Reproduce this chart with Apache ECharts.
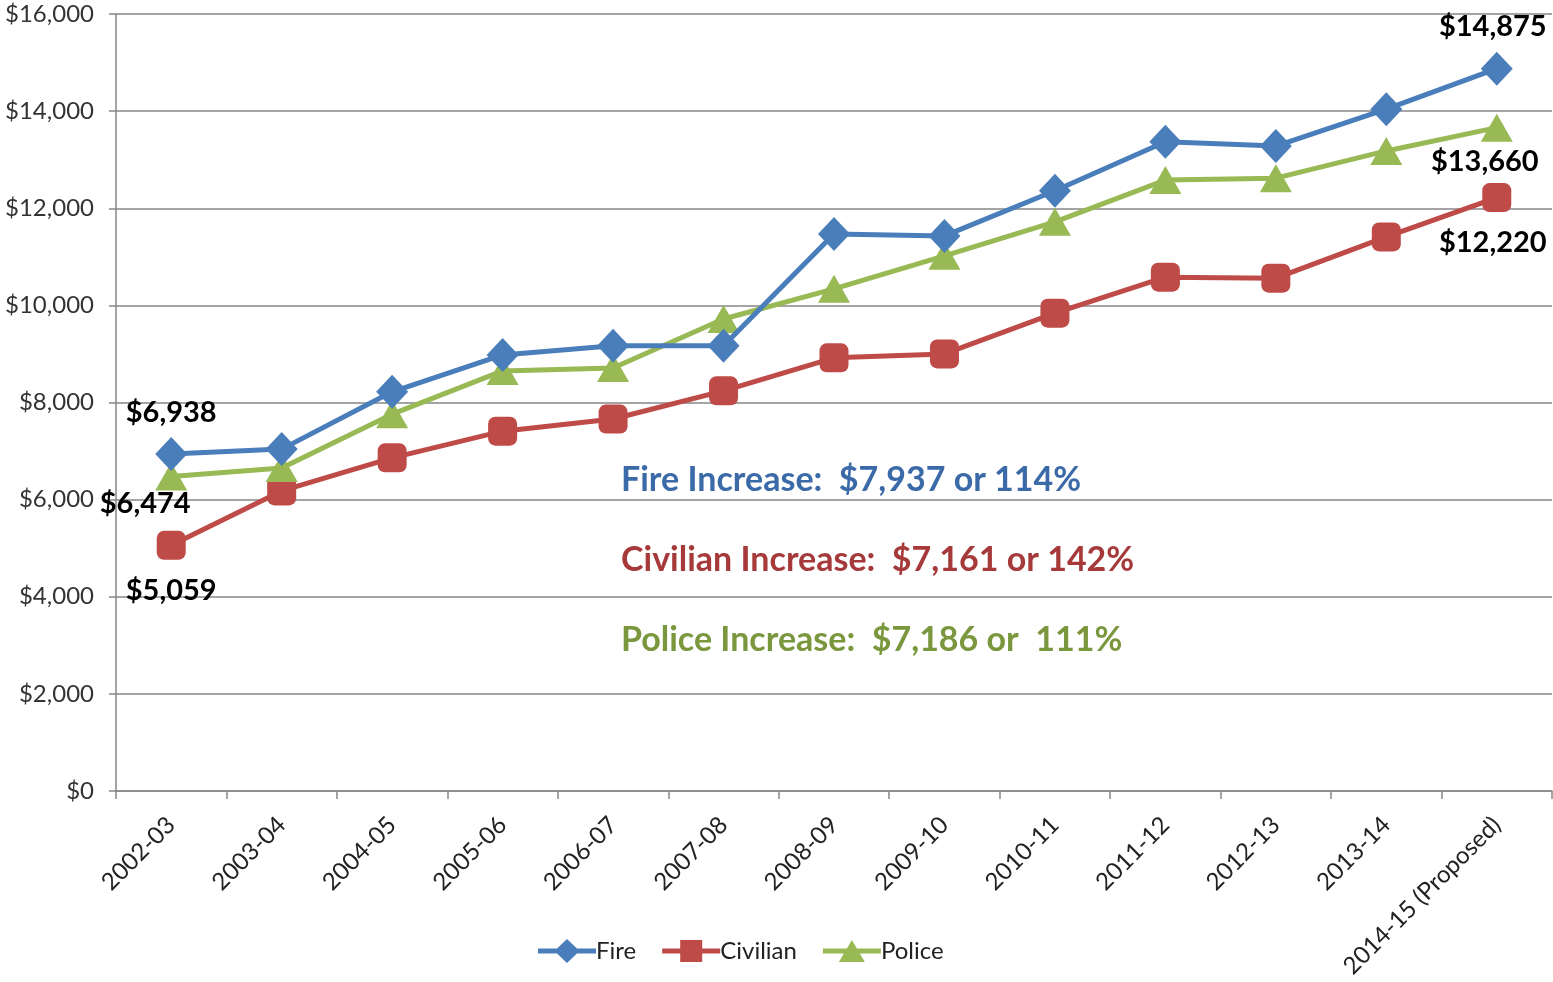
<!DOCTYPE html>
<html>
<head>
<meta charset="utf-8">
<script src="https://cdn.jsdelivr.net/npm/echarts@6/dist/echarts.min.js"></script>
<style>
  html, body { margin: 0; padding: 0; background: #fff; }
  #chart { width: 1553px; height: 982px; }
</style>
</head>
<body>
<div id="chart"></div>
<script>
// categories (fiscal years)
var years = ['2002-03', '2003-04', '2004-05', '2005-06', '2006-07', '2007-08', '2008-09',
  '2009-10', '2010-11', '2011-12', '2012-13', '2013-14', '2014-15 (Proposed)'];
// series values
var fire = [6938, 7040, 8220, 8980, 9170, 9170, 11470, 11430, 12360, 13370, 13280, 14040, 14875];
var civilian = [5059, 6180, 6860, 7410, 7660, 8240, 8920, 9000, 9840, 10580, 10560, 11410, 12220];
var police = [6474, 6650, 7760, 8650, 8710, 9720, 10340, 11020, 11720, 12580, 12620, 13180, 13660];
// annotation texts
var notes = [
  'Fire Increase:  $7,937 or 114%',
  'Civilian Increase:  $7,161 or 142%',
  'Police Increase:  $7,186 or  111%'
];

var font = 'Lato, "Open Sans", sans-serif';
var colors = { fire: '#4A7EBB', civilian: '#BE4B48', police: '#98B954' };

// legend icons: thick line with the marker in the middle
var icons = {
  fire: 'path://M0,9.5 L19,9.5 L29,0 L39,9.5 L58,9.5 L58,14.5 L39,14.5 L29,24 L19,14.5 L0,14.5 Z',
  civilian: 'path://M0,9.5 L18,9.5 L18,1 L40,1 L40,9.5 L58,9.5 L58,14.5 L40,14.5 L40,23 L18,23 L18,14.5 L0,14.5 Z',
  police: 'path://M0,9.5 L24,9.5 L29,1 L34,9.5 L58,9.5 L58,14.5 L37,14.5 L42,23 L16,23 L21,14.5 L0,14.5 Z'
};

function money(v) {
  return '$' + v.toLocaleString('en-US');
}

function merge(a, b) {
  for (var k in b) a[k] = b[k];
  return a;
}

// label only on first and last point
function buildData(values, firstLabel, lastLabel) {
  return values.map(function (v, i) {
    var item = { value: v };
    var lab = i === 0 ? firstLabel : (i === values.length - 1 ? lastLabel : null);
    if (lab) {
      item.label = merge({
        show: true,
        formatter: money(v),
        fontFamily: font,
        fontWeight: 'bold',
        fontSize: 29,
        color: '#000'
      }, lab);
    }
    return item;
  });
}

var chart = echarts.init(document.getElementById('chart'));

var option = {
  animation: false,
  backgroundColor: '#fff',
  grid: { left: 116, right: 1, top: 14, bottom: 191 },
  legend: {
    top: 934,
    left: 533,
    itemWidth: 58,
    itemHeight: 24,
    itemGap: 26,
    textStyle: { fontFamily: font, fontSize: 24, color: '#222', padding: [0, 0, 0, -5] },
    data: [
      { name: 'Fire', icon: icons.fire },
      { name: 'Civilian', icon: icons.civilian },
      { name: 'Police', icon: icons.police }
    ]
  },
  xAxis: {
    type: 'category',
    data: years,
    boundaryGap: true,
    axisLine: { lineStyle: { color: '#868686', width: 1.5 } },
    axisTick: { show: true, length: 8, lineStyle: { color: '#868686', width: 1.5 } },
    axisLabel: {
      rotate: 45,
      margin: 30,
      fontFamily: font,
      fontSize: 24,
      color: '#222'
    }
  },
  yAxis: {
    type: 'value',
    min: 0,
    max: 16000,
    interval: 2000,
    axisLine: { show: true, lineStyle: { color: '#868686', width: 1.5 } },
    axisTick: { show: true, length: 7, lineStyle: { color: '#868686', width: 1.5 } },
    splitLine: { lineStyle: { color: '#868686', width: 1.5 } },
    axisLabel: {
      margin: 22,
      fontFamily: font,
      fontSize: 24,
      color: '#333',
      formatter: function (v) { return money(v); }
    }
  },
  series: [
    {
      name: 'Fire',
      type: 'line',
      symbol: 'diamond',
      symbolSize: [32, 34],
      color: colors.fire,
      lineStyle: { width: 5 },
      z: 4,
      data: buildData(fire,
        { position: 'top', distance: 10 },
        { position: 'top', distance: 10, offset: [-4, 0] })
    },
    {
      name: 'Civilian',
      type: 'line',
      symbol: 'roundRect',
      symbolSize: 29,
      color: colors.civilian,
      lineStyle: { width: 5 },
      z: 3,
      data: buildData(civilian,
        { position: 'bottom', distance: 16 },
        { position: 'bottom', distance: 16, offset: [-4, 0] })
    },
    {
      name: 'Police',
      type: 'line',
      symbol: 'triangle',
      symbolSize: [32, 28],
      color: colors.police,
      lineStyle: { width: 5 },
      z: 3,
      data: buildData(police,
        { position: 'bottom', distance: 0, offset: [-26, -1] },
        { position: 'bottom', distance: 6, offset: [-12, 0] })
    }
  ],
  graphic: [
    {
      type: 'text', left: 621, top: 463,
      style: { text: notes[0], fill: '#3B6AA8', font: 'bold 34px ' + font }
    },
    {
      type: 'text', left: 621, top: 543,
      style: { text: notes[1], fill: '#A6393A', font: 'bold 34px ' + font }
    },
    {
      type: 'text', left: 621, top: 623,
      style: { text: notes[2], fill: '#7A973E', font: 'bold 34px ' + font }
    }
  ]
};

chart.setOption(option);
</script>
</body>
</html>
